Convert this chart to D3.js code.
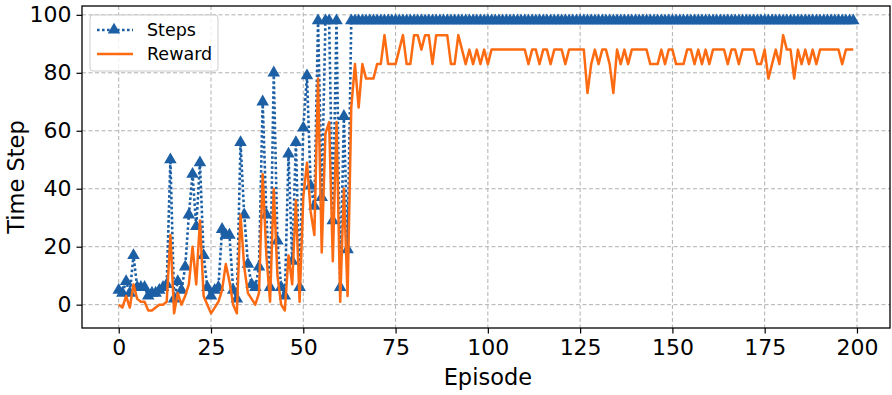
<!DOCTYPE html>
<html>
<head>
<meta charset="utf-8">
<script src="https://cdn.jsdelivr.net/npm/d3@7"></script>
<style>
  body { margin: 0; background: #fff; }
  svg { font-family: "DejaVu Sans", sans-serif; }
</style>
</head>
<body>
<div id="chart"></div>
<script>
// values
const steps = [
  5, 4, 8, 4, 17, 6, 6, 6, 3, 4,
  4, 5, 6, 7, 50, 2, 8, 5, 13, 31,
  45, 27, 49, 17, 6, 3, 5, 6, 26, 24,
  24, 5, 2, 56, 31, 14, 7, 6, 13, 70,
  31, 6, 80, 22, 6, 3, 52, 15, 56, 6,
  61, 79, 41, 34, 98, 37, 98, 98, 29, 98,
  6, 65, 19, 98, 98, 98, 98, 98, 98, 98,
  98, 98, 98, 98, 98, 98, 98, 98, 98, 98,
  98, 98, 98, 98, 98, 98, 98, 98, 98, 98,
  98, 98, 98, 98, 98, 98, 98, 98, 98, 98,
  98, 98, 98, 98, 98, 98, 98, 98, 98, 98,
  98, 98, 98, 98, 98, 98, 98, 98, 98, 98,
  98, 98, 98, 98, 98, 98, 98, 98, 98, 98,
  98, 98, 98, 98, 98, 98, 98, 98, 98, 98,
  98, 98, 98, 98, 98, 98, 98, 98, 98, 98,
  98, 98, 98, 98, 98, 98, 98, 98, 98, 98,
  98, 98, 98, 98, 98, 98, 98, 98, 98, 98,
  98, 98, 98, 98, 98, 98, 98, 98, 98, 98,
  98, 98, 98, 98, 98, 98, 98, 98, 98, 98,
  98, 98, 98, 98, 98, 98, 98, 98, 98, 98
];

const reward = [
  0, -1, 3, -1, 7, 2, 1, 1, -2, -2,
  -1, 0, 0, 1, 24, -3, 4, 0, 3, 7,
  20, 7, 29, 3, 0, -3, -1, 1, 5, 14,
  8, 0, -3, 31, 13, 4, 2, 0, 4, 45,
  17, 1, 40, 10, 0, -2, 17, 7, 36, 1,
  37, 49, 32, 24, 78, 18, 59, 63, 15, 63,
  1, 40, 3, 68, 83, 68, 83, 78, 78, 78,
  83, 83, 93, 83, 83, 83, 88, 93, 83, 83,
  93, 93, 88, 93, 93, 83, 93, 93, 93, 93,
  83, 83, 93, 88, 83, 88, 83, 88, 83, 88,
  83, 88, 88, 88, 88, 88, 88, 88, 88, 88,
  88, 83, 88, 88, 83, 88, 88, 83, 88, 88,
  88, 83, 88, 88, 88, 88, 88, 73, 83, 88,
  83, 88, 88, 83, 73, 88, 83, 88, 83, 88,
  88, 88, 88, 88, 83, 83, 83, 88, 83, 88,
  88, 83, 83, 83, 88, 88, 83, 88, 83, 88,
  83, 88, 88, 88, 88, 83, 88, 88, 83, 88,
  88, 88, 88, 83, 83, 88, 78, 83, 88, 83,
  93, 88, 88, 78, 88, 83, 88, 83, 88, 83,
  88, 88, 88, 88, 88, 88, 83, 88, 88, 88
];

const episodes = steps.map((d, i) => i);
const xTicks = [0, 25, 50, 75, 100, 125, 150, 175, 200];
const yTicks = [0, 20, 40, 60, 80, 100];
const seriesNames = ["Steps", "Reward"];

const blue = "#1c5fa5", orange = "#fc6a12";

const W = 892, H = 395;
const margin = {top: 6, right: 2, bottom: 67, left: 82};
const width = W - margin.left - margin.right, height = H - margin.top - margin.bottom;

const svg = d3.select("#chart").append("svg")
  .attr("width", W).attr("height", H);

const g = svg.append("g")
  .attr("transform", `translate(${margin.left},${margin.top})`);

const xScale = d3.scaleLinear().domain([-9.95, 208.95]).range([0, width]);
const yScale = d3.scaleLinear().domain([-8.05, 103.05]).range([height, 0]);

// grid
g.append("g").selectAll("line").data(xTicks).join("line")
  .attr("x1", d => xScale(d)).attr("x2", d => xScale(d))
  .attr("y1", 0).attr("y2", height)
  .attr("stroke", "#b0b0b0").attr("stroke-width", 1).attr("stroke-dasharray", "4,2.5");
g.append("g").selectAll("line").data(yTicks).join("line")
  .attr("y1", d => yScale(d)).attr("y2", d => yScale(d))
  .attr("x1", 0).attr("x2", width)
  .attr("stroke", "#b0b0b0").attr("stroke-width", 1).attr("stroke-dasharray", "4,2.5");

// steps
const stepLine = d3.line().x((d, i) => xScale(episodes[i])).y(d => yScale(d));
g.append("path").datum(steps)
  .attr("fill", "none").attr("stroke", blue).attr("stroke-width", 2.6)
  .attr("stroke-dasharray", "2.6,2.4")
  .attr("d", stepLine);

const tri = d3.symbol().type(d3.symbolTriangle).size(68);
g.append("g").selectAll("path").data(steps).join("path")
  .attr("d", tri)
  .attr("transform", (d, i) => `translate(${xScale(episodes[i])},${yScale(d)})`)
  .attr("fill", blue);

// reward
g.append("path").datum(reward)
  .attr("fill", "none").attr("stroke", orange).attr("stroke-width", 2.5)
  .attr("stroke-linejoin", "round")
  .attr("d", stepLine);

// axes
const xAxis = d3.axisBottom(xScale).tickValues(xTicks).tickSize(5.5).tickPadding(6);
const yAxis = d3.axisLeft(yScale).tickValues(yTicks).tickSize(5.5).tickPadding(5);

const gx = g.append("g").attr("transform", `translate(0,${height})`).call(xAxis);
const gy = g.append("g").call(yAxis);
[gx, gy].forEach(a => {
  a.select(".domain").remove();
  a.selectAll("line").attr("stroke", "#000").attr("stroke-width", 1.2);
  a.selectAll("text").attr("font-size", 22).attr("font-family", "DejaVu Sans").attr("fill", "#000");
});

// frame
g.append("rect").attr("width", width).attr("height", height)
  .attr("fill", "none").attr("stroke", "#000").attr("stroke-width", 1.3);

// labels
svg.append("text")
  .attr("x", margin.left + xScale(100)).attr("y", 385)
  .attr("text-anchor", "middle").attr("font-size", 22.5)
  .text("Episode");
svg.append("text")
  .attr("transform", `translate(24,${177}) rotate(-90)`)
  .attr("text-anchor", "middle").attr("font-size", 22.5)
  .text("Time Step");

// legend
const lg = svg.append("g").attr("transform", "translate(90,15)");
lg.append("rect").attr("width", 128).attr("height", 56).attr("rx", 3)
  .attr("fill", "#fff").attr("fill-opacity", 0.8)
  .attr("stroke", "#cccccc").attr("stroke-width", 1);
lg.append("line").attr("x1", 7).attr("x2", 43).attr("y1", 15).attr("y2", 15)
  .attr("stroke", blue).attr("stroke-width", 2.6).attr("stroke-dasharray", "2.6,2.4");
lg.append("path").attr("d", tri).attr("transform", "translate(24,15)").attr("fill", blue);
lg.append("line").attr("x1", 7).attr("x2", 43).attr("y1", 39).attr("y2", 39)
  .attr("stroke", orange).attr("stroke-width", 2.5);
lg.selectAll("text").data(seriesNames).join("text")
  .attr("x", 57).attr("y", (d, i) => 15 + i * 24)
  .attr("dy", "0.36em").attr("font-size", 17.5)
  .text(d => d);
</script>
</body>
</html>
